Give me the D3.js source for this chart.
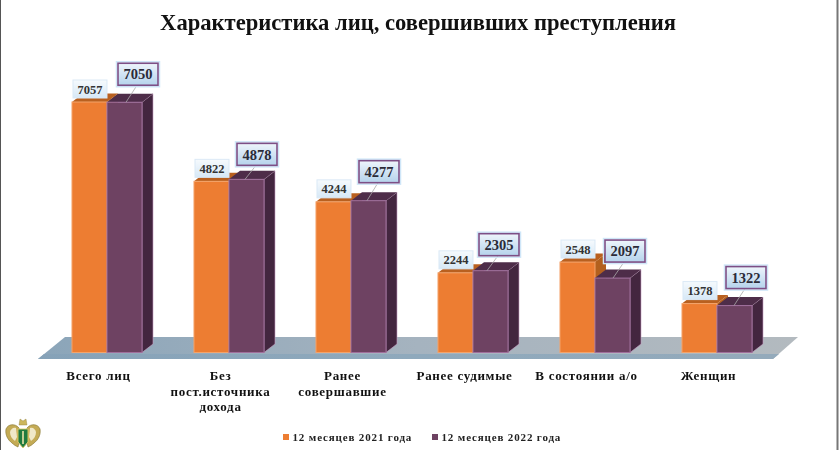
<!DOCTYPE html>
<html>
<head>
<meta charset="utf-8">
<script src="https://cdn.jsdelivr.net/npm/d3@7"></script>
<style>
  html, body { margin: 0; padding: 0; background: #fff; }
  svg { display: block; font-family: "Liberation Serif", serif; filter: blur(0.4px); }
  .tick text { font-family: "Liberation Serif", serif; font-weight: bold; font-size: 13px; letter-spacing: 0.7px; fill: #111; }
</style>
</head>
<body>
<div id="chart"></div>
<script>
const categories = ["Всего лиц", "Без пост.источника дохода", "Ранее совершавшие", "Ранее судимые", "В состоянии а/о", "Женщин"];
const categoryLines = [["Всего лиц"], ["Без", "пост.источника", "дохода"], ["Ранее", "совершавшие"], ["Ранее судимые"], ["В состоянии а/о"], ["Женщин"]];
const seriesNames = ["12 месяцев 2021 года", "12 месяцев 2022 года"];
const values2021 = [7057, 4822, 4244, 2244, 2548, 1378];
const values2022 = [7050, 4878, 4277, 2305, 2097, 1322];

const width = 840, height = 450;
const baseY = 352.5;
const depthX = 11, depthY = 8.5;

const svg = d3.select("#chart").append("svg")
  .attr("width", width)
  .attr("height", height);

const x = d3.scaleBand()
  .domain(categories)
  .range([46, 778])
  .paddingInner(0.426)
  .paddingOuter(0.213);

const xSeries = d3.scaleBand()
  .domain([0, 1])
  .range([0, x.bandwidth()]);

const y = d3.scaleLinear()
  .domain([0, 7057])
  .range([baseY, 102]);

const defs = svg.append("defs");

function gradient(id, x2, y2, stops) {
  const g = defs.append("linearGradient").attr("id", id)
    .attr("x1", 0).attr("y1", 0).attr("x2", x2).attr("y2", y2);
  stops.forEach((s, i) => g.append("stop").attr("offset", i / (stops.length - 1)).attr("stop-color", s));
}
gradient("floor", 1, 0, ["#8ba5b9", "#a5b3bf", "#b3babf"]);
gradient("lip", 1, 0, ["#86a2b8", "#8fa9bc", "#94aabb"]);
gradient("box0", 0, 1, ["#f6fafd", "#d6e8f6"]);
gradient("box1", 0, 1, ["#eef5fb", "#b5d3ec"]);

// page frame
svg.append("line").attr("x1", 0.5).attr("x2", 0.5).attr("y1", 0).attr("y2", height).attr("stroke", "#555").attr("stroke-width", 1);
svg.append("line").attr("x1", 837.5).attr("x2", 837.5).attr("y1", 0).attr("y2", height).attr("stroke", "#777").attr("stroke-width", 2);

// title
svg.append("text")
  .attr("x", 418).attr("y", 30)
  .attr("text-anchor", "middle")
  .attr("font-size", 22.6).attr("font-weight", "bold").attr("fill", "#111")
  .text("Характеристика лиц, совершивших преступления");

// floor of the 3d chart
const floorL = x.range()[0], floorR = x.range()[1];
svg.append("polygon")
  .attr("points", [[floorL - 8, 359], [floorL + 19, 337], [floorR + 20, 337], [floorR - 5, 359]].join(" "))
  .attr("fill", "url(#floor)");
svg.append("polygon")
  .attr("points", [[floorL - 8, 359], [floorL - 2, 354], [floorR + 1, 354], [floorR - 5, 359]].join(" "))
  .attr("fill", "url(#lip)");

const palette = [
  { front: "#ed7d32", top: "#b9601f", side: "#b3601e", edge: "#f4a36a" },
  { front: "#6e4262", top: "#4e2d49", side: "#43263f", edge: "#a06f9c" }
];

const seriesValues = [values2021, values2022];

// one group per category, orange bar first so that the purple one sits over it
const groups = svg.selectAll(".group")
  .data(categories)
  .enter().append("g")
  .attr("class", "group")
  .attr("transform", d => `translate(${x(d)},0)`);

[0, 1].forEach(s => {
  const bw = xSeries.bandwidth();
  const c = palette[s];
  const bar = groups.append("g").attr("class", `bar s${s}`);
  const val = (d, i) => seriesValues[s][i];

  bar.append("polygon")
    .attr("fill", c.side)
    .attr("stroke", s ? "#c9a2c6" : "none").attr("stroke-width", 0.6)
    .attr("points", (d, i) => {
      const l = xSeries(s) + bw, t = y(val(d, i));
      return [[l, t], [l + depthX, t - depthY], [l + depthX, baseY - depthY], [l, baseY]].join(" ");
    });
  bar.append("polygon")
    .attr("fill", c.top)
    .attr("points", (d, i) => {
      const l = xSeries(s), t = y(val(d, i));
      return [[l, t], [l + depthX, t - depthY], [l + bw + depthX, t - depthY], [l + bw, t]].join(" ");
    });
  bar.append("rect")
    .attr("x", xSeries(s))
    .attr("y", (d, i) => y(val(d, i)))
    .attr("width", bw)
    .attr("height", (d, i) => baseY - y(val(d, i)))
    .attr("fill", c.front)
    .attr("stroke", c.edge).attr("stroke-width", 1);
});

// value callouts, the 2022 ones were moved by hand in the source so they wander a bit
const calloutDx = [11, 8, 8, 6, 10, 9];
const calloutDy = [-39, -36, -40, -37, -38, -39];
const labelBox = [
  { dx: () => 1, dy: () => -22, w: 34, h: 18, fs: 12.5, fill: "url(#box0)", stroke: "#dbe9f6", sw: 1, color: "#333" },
  { dx: i => calloutDx[i], dy: i => calloutDy[i], w: 40, h: 22, fs: 14.5, fill: "url(#box1)", stroke: "#7d4f86", sw: 1.6, color: "#2b2b38" }
];
[0, 1].forEach(s => {
  const b = labelBox[s];
  const lab = groups.append("g").attr("class", `label s${s}`)
    .attr("transform", (d, i) => `translate(${xSeries(s) + b.dx(i)},${y(seriesValues[s][i]) + b.dy(i)})`);
  if (s === 1) {
    lab.append("line")
      .attr("x1", 19).attr("y1", b.h)
      .attr("x2", 8).attr("y2", (d, i) => -b.dy(i))
      .attr("stroke", "#aaa").attr("stroke-width", 0.8);
    // light blue glow around the framed box
    lab.append("rect")
      .attr("x", -1.5).attr("y", -1.5)
      .attr("width", b.w + 3).attr("height", b.h + 3)
      .attr("fill", "none").attr("stroke", "#cfe6f8").attr("stroke-width", 1.5);
  }
  lab.append("rect")
    .attr("width", b.w).attr("height", b.h)
    .attr("fill", b.fill)
    .attr("stroke", b.stroke).attr("stroke-width", b.sw);
  lab.append("text")
    .attr("x", b.w / 2).attr("y", b.h / 2)
    .attr("dy", "0.36em")
    .attr("text-anchor", "middle")
    .attr("font-size", b.fs).attr("font-weight", "bold").attr("fill", b.color)
    .text((d, i) => seriesValues[s][i]);
});

// category axis, labels sit a little left of the group centre as in the source
const xAxis = d3.axisBottom(x).tickSize(0).tickPadding(0);
const axisG = svg.append("g")
  .attr("class", "x axis")
  .attr("transform", "translate(-8.5,368)")
  .call(xAxis);
axisG.select(".domain").remove();
axisG.selectAll(".tick text")
  .attr("y", 12).attr("dy", 0)
  .text(null)
  .each(function (d) {
    const lines = categoryLines[categories.indexOf(d)];
    d3.select(this).selectAll("tspan").data(lines).enter().append("tspan")
      .attr("x", 0)
      .attr("dy", (l, i) => i ? 15.5 : 0)
      .text(l => l);
  });

// legend
const legendX = [283, 432];
const legend = svg.selectAll(".legend")
  .data(seriesNames)
  .enter().append("g")
  .attr("class", "legend")
  .attr("transform", (d, i) => `translate(${legendX[i]},437)`);
legend.append("rect")
  .attr("y", -3).attr("width", 6).attr("height", 6)
  .attr("fill", (d, i) => palette[i].front);
legend.append("text")
  .attr("x", 9.5).attr("dy", "0.35em")
  .attr("font-size", 11).attr("font-weight", "bold").attr("letter-spacing", 0.85).attr("fill", "#222")
  .text(d => d);

// small emblem at the lower left: two gold wings, crown, green shield
const emblem = svg.append("g").attr("transform", "translate(23,436)");
[-1, 1].forEach(side => {
  emblem.append("path")
    .attr("transform", `scale(${side},1)`)
    .attr("d", "M4,-8 C8,-13 15,-12 17,-7 C18,-1 15,4 11,7 C9,9 7,10 5,11 L3,2 Z")
    .attr("fill", "#c4ab55").attr("stroke", "#8d7c3a").attr("stroke-width", 0.7);
  emblem.append("path")
    .attr("transform", `scale(${side},1)`)
    .attr("d", "M7,-8 C10,-9 12,-7 13,-4 C13,0 11,3 8,5 L6,1 Z")
    .attr("fill", "#f0e8c8");
});
emblem.append("path").attr("d", "M-4,-11 L-3,-17 L0,-15 L3,-17 L4,-11 Z").attr("fill", "#cdb65c").attr("stroke", "#8d7c3a").attr("stroke-width", 0.4);
emblem.append("path").attr("d", "M-5,-7 H5 V6 L0,12 L-5,6 Z").attr("fill", "#1f7a3f").attr("stroke", "#e2cc6a").attr("stroke-width", 0.9);
emblem.append("rect").attr("x", -0.8).attr("y", -5).attr("width", 1.6).attr("height", 13).attr("fill", "#e8e2a8");
</script>
</body>
</html>
